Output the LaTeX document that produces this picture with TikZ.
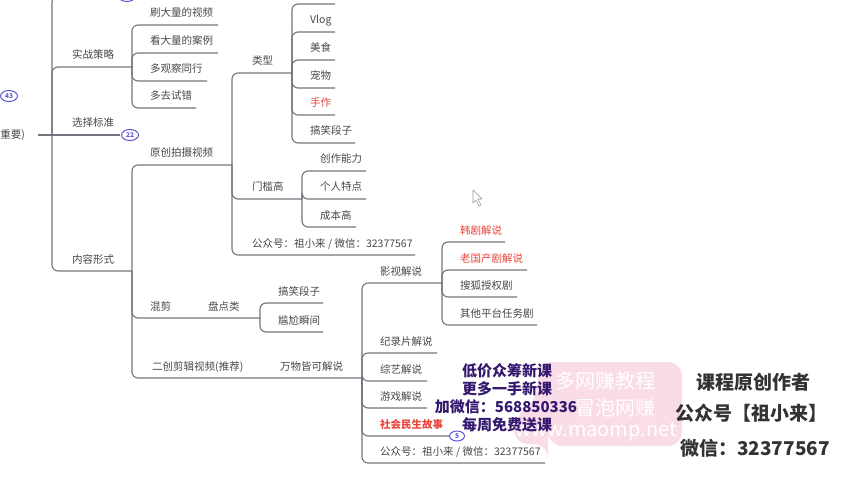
\documentclass[tikz,border=0pt]{standalone}
\usepackage{fontspec}
\setmainfont{Noto Sans CJK SC}
\usepackage{xcolor}
\usetikzlibrary{shapes.geometric,positioning}

\definecolor{branch}{HTML}{77717E}
\definecolor{txt}{HTML}{474747}
\definecolor{hot}{HTML}{E8453C}
\definecolor{badge}{HTML}{5B56D6}
\definecolor{promo}{HTML}{34196F}
\definecolor{author}{HTML}{333333}
\definecolor{blush}{HTML}{F9D6E5}

\tikzset{
  ln/.style={draw=branch, line width=1.1pt, rounded corners=6pt},
  lbl/.style={anchor=base west, inner sep=0pt, text=txt, font=\fontsize{10.5}{12}\selectfont},
  hotlbl/.style={lbl, text=hot},
  tag/.style={ellipse, draw=badge, line width=1pt, fill=white, inner sep=0pt,
    minimum width=17pt, minimum height=11pt, text=badge, font=\fontsize{6.5}{7}\selectfont\bfseries},
  promoline/.style={text=promo, font=\fontsize{15}{16}\selectfont\bfseries, inner sep=0pt},
  authorline/.style={text=author, font=\fontsize{19}{20}\selectfont\bfseries, inner sep=0pt},
  wmline/.style={text=white, font=\fontsize{20}{21}\selectfont, inner sep=0pt},
}

\begin{document}
\begin{tikzpicture}[x=1pt, y=-1pt]
    \useasboundingbox (0,0) rectangle (850,478);
    \clip (0,0) rectangle (850,478);

    % root
    \node[lbl, anchor=east] (root) at (25,135) {重要)};
    \coordinate (hubRoot) at (52,135);
    \draw[ln] (38,135) -- (hubRoot);
    \node[tag] (tag43) at (9,96) {43};

    % main branches
    \draw[ln] (hubRoot) |- (118,-4);
    \node[tag] (tagTop) at (127,-4) {};
    \draw[ln] (hubRoot) |- (132,67);
    \node[lbl] (zhan) at (72,59) {实战策略};
    \draw[ln] (hubRoot) -- (120,135);
    \node[lbl] (xuan) at (72,127) {选择标准};
    \node[tag] (tag22) at (130,135) {22};
    \draw[ln] (hubRoot) |- (132,271);
    \node[lbl] (nei) at (72,263) {内容形式};

    % 实战策略
    \coordinate (hubZhan) at (132,67);
    \foreach \y/\xe/\t/\n in {25/218/刷大量的视频/zA, 53/218/看大量的案例/zB,
                              81/207/多观察同行/zC, 108/196/多去试错/zD}{
        \draw[ln] (hubZhan) |- (\xe,\y);
        \node[lbl] (\n) at (150,\y-8) {\t};
    }

    % 内容形式
    \coordinate (hubNei) at (132,271);
    \draw[ln] (hubNei) |- (232,165);
    \node[lbl] (yuan) at (150,157) {原创拍摄视频};
    \draw[ln] (hubNei) |- (260,318);
    \node[lbl] (hun) at (150,310) {混剪};
    \node[lbl] (pan) at (208,310) {盘点类};
    \draw[ln] (hubNei) |- (362,378);
    \node[lbl] (erchuang) at (152,370) {二创剪辑视频(推荐)};
    \node[lbl] (wanwu) at (280,370) {万物皆可解说};

    % 原创拍摄视频
    \coordinate (hubYuan) at (232,165);
    \draw[ln] (hubYuan) |- (292,73);
    \node[lbl] (lei) at (252,65) {类型};
    \draw[ln] (hubYuan) |- (302,199);
    \node[lbl] (men) at (252,191) {门槛高};
    \draw[ln] (hubYuan) |- (415,255);
    \node[lbl] (gzhA) at (252,247) {公众号：祖小来 / 微信：32377567};

    % 类型
    \coordinate (hubLei) at (292,73);
    \draw[ln] (hubLei) |- (335,4);
    \foreach \y/\xe/\t/\n in {32/335/Vlog/lA, 60/335/美食/lB, 88/335/宠物/lC, 143/355/搞笑段子/lE}{
        \draw[ln] (hubLei) |- (\xe,\y);
        \node[lbl] (\n) at (310,\y-8) {\t};
    }
    \draw[ln] (hubLei) |- (335,115);
    \node[hotlbl] (lD) at (310,107) {手作};

    % 门槛高
    \coordinate (hubMen) at (302,199);
    \foreach \y/\xe/\t/\n in {171/366/创作能力/mA, 199/366/个人特点/mB, 227/356/成本高/mC}{
        \draw[ln] (hubMen) |- (\xe,\y);
        \node[lbl] (\n) at (320,\y-8) {\t};
    }

    % 盘点类
    \coordinate (hubPan) at (260,318);
    \foreach \y/\t/\n in {303/搞笑段子/pA, 332/尴尬瞬间/pB}{
        \draw[ln] (hubPan) |- (323,\y);
        \node[lbl] (\n) at (278,\y-8) {\t};
    }

    % 万物皆可解说
    \coordinate (hubWan) at (362,378);
    \foreach \y/\xe/\t/\n in {283/442/影视解说/wA, 353/437/纪录片解说/wB,
                              381/427/综艺解说/wC, 408/427/游戏解说/wD}{
        \draw[ln] (hubWan) |- (\xe,\y);
        \node[lbl] (\n) at (380,\y-8) {\t};
    }
    \draw[ln] (hubWan) |- (449,436);
    \node[hotlbl, font=\fontsize{10.5}{12}\selectfont\bfseries] (wE) at (380,428) {社会民生故事};
    \node[tag, minimum width=15pt, minimum height=10pt] (tag5) at (457,436) {5};
    \draw[ln] (hubWan) |- (545,463);
    \node[lbl] (gzhB) at (380,455) {公众号：祖小来 / 微信：32377567};

    % 影视解说
    \coordinate (hubYing) at (442,283);
    \foreach \y/\xe/\t/\n in {297/517/搜狐授权剧/yC, 325/537/其他平台任务剧/yD}{
        \draw[ln] (hubYing) |- (\xe,\y);
        \node[lbl] (\n) at (460,\y-8) {\t};
    }
    \draw[ln] (hubYing) |- (505,242);
    \node[hotlbl] (yA) at (460,234) {韩剧解说};
    \draw[ln] (hubYing) |- (527,270);
    \node[hotlbl] (yB) at (460,262) {老国产剧解说};

    % cursor
    \filldraw[fill=white, draw=gray!80, line width=0.6pt, line join=round]
        (473,190) -- (473,203) -- (476,200) -- (479,206) -- (481,205) -- (478,199) -- (482,199) -- cycle;

    % watermark
    \fill[blush, opacity=0.85, rounded corners=14pt]
        (538,362) -- (682,362) -- (682,446) -- (548,446) -- (548,444) -- (514,444) -- (514,418) -- (538,398) -- cycle;
    \node[wmline] (wm1) at (605,381) {多网赚教程};
    \node[wmline, anchor=east] (wm2) at (656,408) {冒泡网赚};
    \node[wmline] (wm3) at (596,432) {www.maomp.net};

    % promo
    \node[promoline] (pr1) at (507,371) {低价众筹新课};
    \node[promoline] (pr2) at (507,389) {更多一手新课};
    \node[promoline] (pr3) at (506,407) {加微信：568850336};
    \node[promoline] (pr4) at (507,425) {每周免费送课};

    % author
    \node[authorline] (au1) at (753,382) {课程原创作者};
    \node[authorline] (au2) at (751,413) {公众号【祖小来】};
    \node[authorline] (au3) at (755,448) {微信：32377567};
\end{tikzpicture}
\end{document}
